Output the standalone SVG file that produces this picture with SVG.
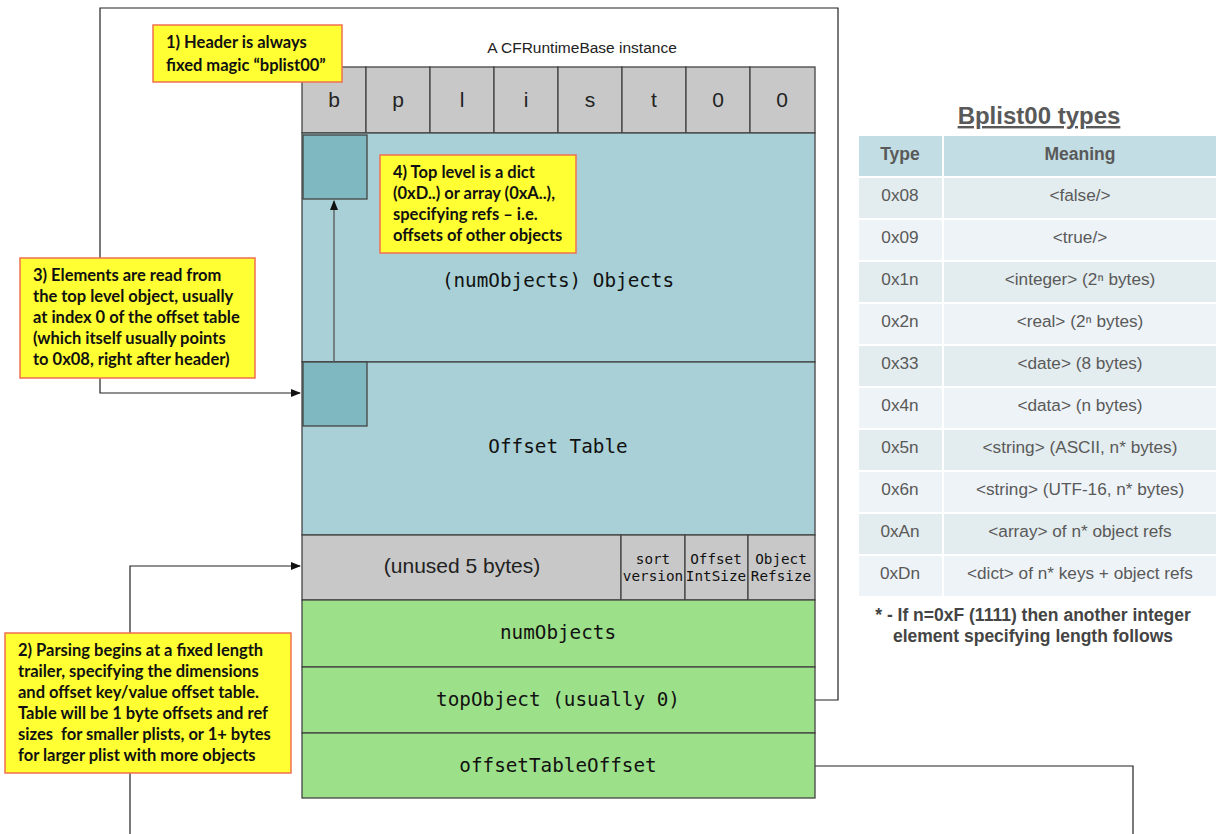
<svg xmlns="http://www.w3.org/2000/svg" width="1216" height="834" viewBox="0 0 1216 834">
<style>
.cell{stroke:#444;stroke-width:1.3}
.gray{fill:#c8c8c8}
.blue{fill:#a8d0d6}
.teal{fill:#7fb8c0}
.green{fill:#9de08a}
.call{fill:#ffff33;stroke:#f07050;stroke-width:1.5}
.ct{font-family:Lato,"Liberation Sans",sans-serif;font-weight:bold;font-size:16.5px;fill:#111}
.mono{font-family:"DejaVu Sans Mono","Liberation Mono",monospace;font-size:19.3px;fill:#111;text-anchor:middle}
.smono{font-family:"DejaVu Sans Mono","Liberation Mono",monospace;font-size:14.3px;fill:#111;text-anchor:middle}
.hdr{font-family:"Liberation Sans",Arial,sans-serif;font-size:21px;fill:#222;text-anchor:middle}
.tt{font-family:"Liberation Sans",Arial,sans-serif;font-size:17.2px;fill:#595959;text-anchor:middle}
.th{font-family:"Liberation Sans",Arial,sans-serif;font-size:17.5px;font-weight:bold;fill:#595959;text-anchor:middle}
.r1{fill:#e3ecee}
.r2{fill:#eef3f8}
.conn{fill:none;stroke:#222;stroke-width:1.2}
</style>
<defs>
<marker id="ah" markerWidth="10" markerHeight="8" refX="9" refY="4" orient="auto" markerUnits="userSpaceOnUse">
<path d="M0,0 L10,4 L0,8 Z" fill="#111"/>
</marker>
</defs>
<rect width="1216" height="834" fill="#fff"/>

<g id="connectors">
<path class="conn" d="M815,700 H838 V8 H100 V393 H300" marker-end="url(#ah)"/>
<path class="conn" d="M815,766 H1133 V834"/>
<path class="conn" d="M130,834 V566 H300" marker-end="url(#ah)"/>
</g>

<g id="title">
<text x="582" y="53" font-family="'Liberation Sans',Arial,sans-serif" font-size="15.5" fill="#222" text-anchor="middle">A CFRuntimeBase instance</text>
</g>

<g id="header">
<rect class="cell gray" x="302" y="67" width="64" height="66"/>
<rect class="cell gray" x="366" y="67" width="64" height="66"/>
<rect class="cell gray" x="430" y="67" width="64" height="66"/>
<rect class="cell gray" x="494" y="67" width="64" height="66"/>
<rect class="cell gray" x="558" y="67" width="64" height="66"/>
<rect class="cell gray" x="622" y="67" width="64" height="66"/>
<rect class="cell gray" x="686" y="67" width="64" height="66"/>
<rect class="cell gray" x="750" y="67" width="65" height="66"/>
<text class="hdr" x="334" y="107">b</text>
<text class="hdr" x="398" y="107">p</text>
<text class="hdr" x="462" y="107">l</text>
<text class="hdr" x="526" y="107">i</text>
<text class="hdr" x="590" y="107">s</text>
<text class="hdr" x="654" y="107">t</text>
<text class="hdr" x="718" y="107">0</text>
<text class="hdr" x="782" y="107">0</text>
</g>

<g id="objects">
<rect class="cell blue" x="302" y="133" width="513" height="229"/>
<text class="mono" x="558" y="287">(numObjects) Objects</text>
</g>
<g id="offset-table">
<rect class="cell blue" x="302" y="362" width="513" height="173"/>
<text class="mono" x="558" y="453">Offset Table</text>
</g>
<g id="top-object-square">
<rect class="cell teal" x="303" y="135" width="64" height="64"/>
</g>
<g id="offset-entry-square">
<rect class="cell teal" x="303" y="362" width="64" height="64"/>
</g>
<g id="ref-arrow">
<path d="M334,362 V201" fill="none" stroke="#555" stroke-width="1.3" marker-end="url(#ah)"/>
</g>

<g id="trailer-unused">
<rect class="cell gray" x="302" y="535" width="319" height="65"/>
<text class="hdr" x="462" y="573">(unused 5 bytes)</text>
<rect class="cell gray" x="621" y="535" width="64" height="65"/>
<text class="smono" x="653" y="564">sort</text>
<text class="smono" x="653" y="581">version</text>
<rect class="cell gray" x="685" y="535" width="63" height="65"/>
<text class="smono" x="716" y="564">Offset</text>
<text class="smono" x="716" y="581">IntSize</text>
<rect class="cell gray" x="748" y="535" width="67" height="65"/>
<text class="smono" x="781" y="564">Object</text>
<text class="smono" x="781" y="581">Refsize</text>
</g>
<g id="numObjects">
<rect class="cell green" x="302" y="600" width="513" height="67"/>
<text class="mono" x="558" y="639">numObjects</text>
</g>
<g id="topObject">
<rect class="cell green" x="302" y="667" width="513" height="66"/>
<text class="mono" x="558" y="706">topObject (usually 0)</text>
</g>
<g id="offsetTableOffset">
<rect class="cell green" x="302" y="733" width="513" height="65"/>
<text class="mono" x="558" y="772">offsetTableOffset</text>
</g>

<g id="callout1">
<rect class="call" x="153" y="25" width="189" height="57"/>
<text class="ct" x="166" y="48">1) Header is always</text>
<text class="ct" x="166" y="71">fixed magic “bplist00”</text>
</g>
<g id="callout4">
<rect class="call" x="380" y="155" width="196" height="98"/>
<text class="ct" x="393" y="178">4) Top level is a dict</text>
<text class="ct" x="393" y="199">(0xD..) or array (0xA..),</text>
<text class="ct" x="393" y="220">specifying refs – i.e.</text>
<text class="ct" x="393" y="241">offsets of other objects</text>
</g>
<g id="callout3">
<rect class="call" x="20" y="258" width="235" height="120"/>
<text class="ct" x="33" y="281">3) Elements are read from</text>
<text class="ct" x="33" y="302">the top level object, usually</text>
<text class="ct" x="33" y="323">at index 0 of the offset table</text>
<text class="ct" x="33" y="344">(which itself usually points</text>
<text class="ct" x="33" y="365">to 0x08, right after header)</text>
</g>
<g id="callout2">
<rect class="call" x="5" y="633" width="286" height="140"/>
<text class="ct" x="18" y="656">2) Parsing begins at a fixed length</text>
<text class="ct" x="18" y="677">trailer, specifying the dimensions</text>
<text class="ct" x="18" y="698">and offset key/value offset table.</text>
<text class="ct" x="18" y="719">Table will be 1 byte offsets and ref</text>
<text class="ct" x="18" y="740" xml:space="preserve">sizes  for smaller plists, or 1+ bytes</text>
<text class="ct" x="18" y="761">for larger plist with more objects</text>
</g>

<g id="types-table">
<text x="1039" y="124" font-family="'Liberation Sans',Arial,sans-serif" font-size="24" font-weight="bold" fill="#595959" text-anchor="middle" text-decoration="underline">Bplist00 types</text>
<rect x="859" y="136" width="83" height="40" fill="#c2dde3"/>
<rect x="944" y="136" width="272" height="40" fill="#c2dde3"/>
<text class="th" x="900" y="160">Type</text>
<text class="th" x="1080" y="160">Meaning</text>

<rect class="r1" x="859" y="178" width="83" height="40"/><rect class="r1" x="944" y="178" width="272" height="40"/>
<text class="tt" x="900" y="201">0x08</text><text class="tt" x="1080" y="201">&lt;false/&gt;</text>
<rect class="r2" x="859" y="220" width="83" height="40"/><rect class="r2" x="944" y="220" width="272" height="40"/>
<text class="tt" x="900" y="243">0x09</text><text class="tt" x="1080" y="243">&lt;true/&gt;</text>
<rect class="r1" x="859" y="262" width="83" height="40"/><rect class="r1" x="944" y="262" width="272" height="40"/>
<text class="tt" x="900" y="285">0x1n</text><text class="tt" x="1080" y="285">&lt;integer&gt; (2ⁿ bytes)</text>
<rect class="r2" x="859" y="304" width="83" height="40"/><rect class="r2" x="944" y="304" width="272" height="40"/>
<text class="tt" x="900" y="327">0x2n</text><text class="tt" x="1080" y="327">&lt;real&gt; (2ⁿ bytes)</text>
<rect class="r1" x="859" y="346" width="83" height="40"/><rect class="r1" x="944" y="346" width="272" height="40"/>
<text class="tt" x="900" y="369">0x33</text><text class="tt" x="1080" y="369">&lt;date&gt; (8 bytes)</text>
<rect class="r2" x="859" y="388" width="83" height="40"/><rect class="r2" x="944" y="388" width="272" height="40"/>
<text class="tt" x="900" y="411">0x4n</text><text class="tt" x="1080" y="411">&lt;data&gt; (n bytes)</text>
<rect class="r1" x="859" y="430" width="83" height="40"/><rect class="r1" x="944" y="430" width="272" height="40"/>
<text class="tt" x="900" y="453">0x5n</text><text class="tt" x="1080" y="453">&lt;string&gt; (ASCII, n* bytes)</text>
<rect class="r2" x="859" y="472" width="83" height="40"/><rect class="r2" x="944" y="472" width="272" height="40"/>
<text class="tt" x="900" y="495">0x6n</text><text class="tt" x="1080" y="495">&lt;string&gt; (UTF-16, n* bytes)</text>
<rect class="r1" x="859" y="514" width="83" height="40"/><rect class="r1" x="944" y="514" width="272" height="40"/>
<text class="tt" x="900" y="537">0xAn</text><text class="tt" x="1080" y="537">&lt;array&gt; of n* object refs</text>
<rect class="r2" x="859" y="556" width="83" height="40"/><rect class="r2" x="944" y="556" width="272" height="40"/>
<text class="tt" x="900" y="579">0xDn</text><text class="tt" x="1080" y="579">&lt;dict&gt; of n* keys + object refs</text>

<text x="1033" y="621" font-family="'Liberation Sans',Arial,sans-serif" font-size="17.5" font-weight="bold" fill="#444" text-anchor="middle">* - If n=0xF (1111) then another integer</text>
<text x="1033" y="642" font-family="'Liberation Sans',Arial,sans-serif" font-size="17.5" font-weight="bold" fill="#444" text-anchor="middle">element specifying length follows</text>
</g>
</svg>
